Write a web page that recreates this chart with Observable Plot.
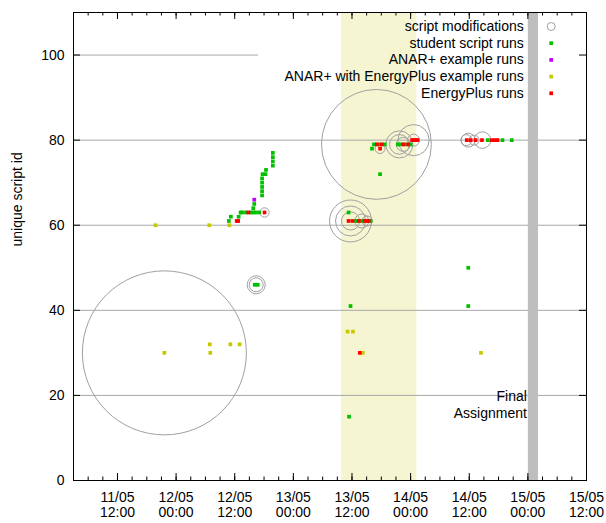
<!DOCTYPE html>
<html>
<head>
<meta charset="utf-8">
<script src="https://cdn.jsdelivr.net/npm/d3@7"></script>
<script src="https://cdn.jsdelivr.net/npm/@observablehq/plot@0.6"></script>
<style>
  html, body { margin: 0; padding: 0; background: #ffffff; }
</style>
</head>
<body>
<div id="chart"></div>
<script>
// ---------------- data ----------------
const xDomain = ["2015-05-11T03:00", "2015-05-15T12:00"];
const yDomain = [0, 110];

const majorTicks = ["2015-05-11T12:00", "2015-05-12T00:00", "2015-05-12T12:00", "2015-05-13T00:00",
  "2015-05-13T12:00", "2015-05-14T00:00", "2015-05-14T12:00", "2015-05-15T00:00", "2015-05-15T12:00"];
const majorTickLabels = ["11/05\n12:00", "12/05\n00:00", "12/05\n12:00", "13/05\n00:00",
  "13/05\n12:00", "14/05\n00:00", "14/05\n12:00", "15/05\n00:00", "15/05\n12:00"];
const yTicks = [0, 20, 40, 60, 80, 100];
const gridFull = [20, 40, 60, 80];
const gridPartial = [100, "2015-05-11T03:00", "2015-05-12T16:54"];

const studyPeriod = ["2015-05-13T09:52", "2015-05-14T01:16"];
const finalPeriod = ["2015-05-15T00:06", "2015-05-15T02:10"];
const finalNote = ["2015-05-15T00:00", 20, "Final\nAssignment"];

const yLabel = "unique script id";
const legendLabels = ["script modifications", "student script runs", "ANAR+ example runs",
  "ANAR+ with EnergyPlus example runs", "EnergyPlus runs"];

// [time, script id, modification size]
const modifications = [
  ["2015-05-11T21:36", 30, 100],
  ["2015-05-12T16:24", 46, 11], ["2015-05-12T16:24", 46, 8.5],
  ["2015-05-12T18:06", 63, 5.7],
  ["2015-05-13T17:00", 79, 67],
  ["2015-05-13T17:45", 78, 6],
  ["2015-05-13T21:42", 79, 16.5], ["2015-05-13T21:42", 79, 12], ["2015-05-13T22:30", 79, 8.5],
  ["2015-05-14T00:36", 80, 19], ["2015-05-14T00:36", 80, 7.3],
  ["2015-05-13T11:42", 61, 25.6], ["2015-05-13T11:42", 61, 18.3], ["2015-05-13T11:42", 61, 11],
  ["2015-05-13T14:00", 61, 8.5], ["2015-05-13T15:06", 61, 6.1],
  ["2015-05-14T11:24", 80, 6.7], ["2015-05-14T11:48", 80, 8.5], ["2015-05-14T13:00", 80, 6.1],
  ["2015-05-14T14:42", 80, 10.1]
];

// [time, script id]
const studentRuns = [
  ["2015-05-12T10:48", 61], ["2015-05-12T11:12", 62], ["2015-05-12T12:48", 62],
  ["2015-05-12T13:12", 63], ["2015-05-12T13:30", 63], ["2015-05-12T14:18", 63], ["2015-05-12T15:18", 63],
  ["2015-05-12T15:48", 63], ["2015-05-12T16:18", 63], ["2015-05-12T17:00", 63],
  ["2015-05-12T15:48", 64], ["2015-05-12T16:00", 65],
  ["2015-05-12T17:36", 67], ["2015-05-12T17:36", 68], ["2015-05-12T17:36", 69], ["2015-05-12T17:36", 70],
  ["2015-05-12T17:36", 71], ["2015-05-12T17:42", 72], ["2015-05-12T18:18", 72], ["2015-05-12T18:24", 73],
  ["2015-05-12T19:48", 74], ["2015-05-12T19:48", 75], ["2015-05-12T19:48", 76], ["2015-05-12T19:48", 77],
  ["2015-05-12T16:06", 46], ["2015-05-12T16:42", 46],
  ["2015-05-13T11:18", 63], ["2015-05-13T11:42", 41], ["2015-05-13T11:24", 15],
  ["2015-05-13T12:48", 61], ["2015-05-13T14:00", 61], ["2015-05-13T15:48", 61],
  ["2015-05-13T16:06", 78], ["2015-05-13T16:30", 79], ["2015-05-13T17:36", 79], ["2015-05-13T18:42", 79],
  ["2015-05-13T17:45", 72],
  ["2015-05-13T21:24", 79], ["2015-05-13T22:00", 79], ["2015-05-13T23:00", 79], ["2015-05-14T00:00", 79],
  ["2015-05-14T11:48", 50], ["2015-05-14T11:48", 41],
  ["2015-05-14T15:48", 80], ["2015-05-14T18:48", 80], ["2015-05-14T20:42", 80]
];

const anarRuns = [["2015-05-12T16:00", 66]];

const anarEnergyPlusRuns = [
  ["2015-05-11T19:48", 60], ["2015-05-12T06:48", 60], ["2015-05-12T10:54", 60],
  ["2015-05-11T21:36", 30], ["2015-05-12T06:54", 32], ["2015-05-12T07:00", 30],
  ["2015-05-12T11:06", 32], ["2015-05-12T13:00", 32],
  ["2015-05-13T11:06", 35], ["2015-05-13T12:12", 35], ["2015-05-13T14:12", 30], ["2015-05-14T14:24", 30]
];

const energyPlusRuns = [
  ["2015-05-12T12:24", 61], ["2015-05-12T12:42", 61], ["2015-05-12T14:48", 63], ["2015-05-12T18:06", 63],
  ["2015-05-13T13:36", 30],
  ["2015-05-13T11:18", 61], ["2015-05-13T12:06", 61], ["2015-05-13T13:24", 61], ["2015-05-13T14:36", 61],
  ["2015-05-13T15:00", 61], ["2015-05-13T15:24", 61],
  ["2015-05-13T17:06", 79], ["2015-05-13T18:06", 79], ["2015-05-13T17:45", 78],
  ["2015-05-13T22:30", 79], ["2015-05-13T23:30", 79],
  ["2015-05-14T00:18", 80], ["2015-05-14T00:42", 80], ["2015-05-14T01:06", 80], ["2015-05-14T01:24", 80],
  ["2015-05-14T11:30", 80], ["2015-05-14T12:18", 80], ["2015-05-14T13:18", 80], ["2015-05-14T14:36", 80],
  ["2015-05-14T16:36", 80], ["2015-05-14T17:12", 80], ["2015-05-14T17:48", 80]
];

// ---------------- build ----------------
const parse = d3.utcParse("%Y-%m-%dT%H:%M");
const runs = arr => arr.map(([t, id]) => ({time: parse(t), id}));
const mods = modifications.map(([t, id, size]) => ({time: parse(t), id, size}));
const xDom = xDomain.map(parse);
const majorDates = majorTicks.map(parse);
const labelByTime = new Map(majorDates.map((d, i) => [+d, majorTickLabels[i]]));
const minorDates = d3.utcHour.every(3).range(xDom[0], d3.utcHour.offset(xDom[1], 1));

const W = 606, H = 523, mL = 73, mR = 20, mT = 12, mB = 43;
const plotW = W - mL - mR, plotH = H - mT - mB;
const font = "'Liberation Sans', Arial, Helvetica, sans-serif";

const colors = {
  mod: "#a0a0a0", student: "#00c000", anar: "#c000ff", anarEp: "#c8c800", ep: "#ff0000"
};
const legendSymbols = [
  {symbol: "circle", color: colors.mod},
  {symbol: "square", color: colors.student},
  {symbol: "square", color: colors.anar},
  {symbol: "square", color: colors.anarEp},
  {symbol: "square", color: colors.ep}
];
const sq = 2.1;

const legendMarks = [];
legendLabels.forEach((label, i) => {
  const dy = 14 + i * 16.7;
  legendMarks.push(Plot.text([label], {
    frameAnchor: "top-right", dx: -62.7, dy, text: d => d,
    textAnchor: "end", lineAnchor: "middle", fill: "#000"
  }));
  const s = legendSymbols[i];
  legendMarks.push(s.symbol === "circle"
    ? Plot.dot([0], {frameAnchor: "top-right", dx: -35.3, dy, r: 4, stroke: s.color, fill: "none", strokeWidth: 1})
    : Plot.dot([0], {frameAnchor: "top-right", dx: -35.3, dy, r: sq, symbol: "square", fill: s.color}));
});

const chart = Plot.plot({
  width: W, height: H,
  marginLeft: mL, marginRight: mR, marginTop: mT, marginBottom: mB,
  x: {type: "utc", domain: xDom},
  y: {domain: yDomain},
  r: {type: "linear", domain: [0, 100], range: [0, 82]},
  style: {fontFamily: font, fontSize: "14px", background: "#ffffff", color: "#000"},
  marks: [
    Plot.rect([studyPeriod], {x1: d => parse(d[0]), x2: d => parse(d[1]), fill: "#f5f5d2"}),
    Plot.ruleY(gridFull, {y: d => d, stroke: "#a8a8a8", strokeWidth: 1}),
    Plot.ruleY([gridPartial], {y: d => d[0], x1: d => parse(d[1]), x2: d => parse(d[2]), stroke: "#a8a8a8", strokeWidth: 1}),
    Plot.rect([finalPeriod], {x1: d => parse(d[0]), x2: d => parse(d[1]), fill: "#bebebe"}),
    Plot.dot(mods, {x: "time", y: "id", r: "size", stroke: colors.mod, fill: "none", strokeWidth: 1}),
    Plot.dot(runs(studentRuns), {x: "time", y: "id", symbol: "square", r: sq, fill: colors.student}),
    Plot.dot(runs(anarRuns), {x: "time", y: "id", symbol: "square", r: sq, fill: colors.anar}),
    Plot.dot(runs(anarEnergyPlusRuns), {x: "time", y: "id", symbol: "square", r: sq, fill: colors.anarEp}),
    Plot.dot(runs(energyPlusRuns), {x: "time", y: "id", symbol: "square", r: sq, fill: colors.ep}),
    Plot.text([finalNote], {
      x: d => parse(d[0]), y: d => d[1], text: d => d[2],
      textAnchor: "end", lineAnchor: "top", dx: -1, dy: -6, lineHeight: 1.18, fill: "#000"
    }),
    ...legendMarks,
    Plot.text([yLabel], {frameAnchor: "left", rotate: -90, dx: -56, text: d => d, fill: "#000"}),
    // inward ticks on all four sides
    Plot.tickX(majorDates, {x: d => d, insetTop: plotH - 7, stroke: "#000"}),
    Plot.tickX(majorDates, {x: d => d, insetBottom: plotH - 7, stroke: "#000"}),
    Plot.tickX(minorDates, {x: d => d, insetTop: plotH - 3.5, stroke: "#000"}),
    Plot.tickX(minorDates, {x: d => d, insetBottom: plotH - 3.5, stroke: "#000"}),
    Plot.tickY(yTicks, {y: d => d, insetRight: plotW - 7, stroke: "#000"}),
    Plot.tickY(yTicks, {y: d => d, insetLeft: plotW - 7, stroke: "#000"}),
    Plot.axisX({ticks: majorDates, tickFormat: d => labelByTime.get(+d), tickSize: 0, tickPadding: 11,
      lineHeight: 1.08, label: null, fill: "#000"}),
    Plot.axisY({ticks: yTicks, tickSize: 0, tickPadding: 9, label: null, fill: "#000"}),
    Plot.frame({stroke: "#000", strokeWidth: 1})
  ]
});

document.getElementById("chart").appendChild(chart);
</script>
</body>
</html>
